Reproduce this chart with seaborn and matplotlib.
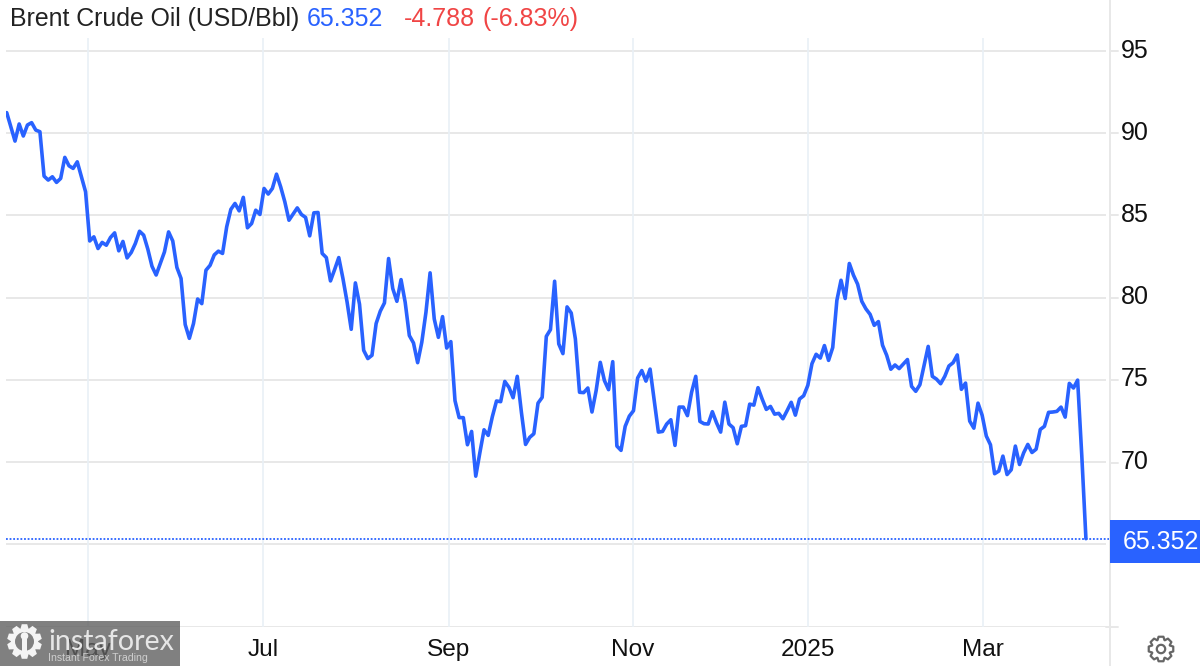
import numpy as np
import matplotlib
matplotlib.use('Agg')
import matplotlib.pyplot as plt
from matplotlib.patches import Polygon, Circle, Rectangle
import seaborn as sns

# daily closes
prices = [
    91.25, 90.39, 89.52, 90.56, 89.83, 90.50, 90.64, 90.19, 90.09, 87.39, 87.15,
    87.35, 87.01, 87.25, 88.53, 88.02, 87.86, 88.26, 87.35, 86.44, 83.45,
    83.70, 82.99, 83.36, 83.19, 83.66, 83.94, 82.85, 83.42, 82.42, 82.75,
    83.30, 84.04, 83.80, 82.95, 81.91, 81.38, 82.08, 82.78, 84.00, 83.45,
    81.84, 81.17, 78.37, 77.53, 78.43, 79.92, 79.64, 81.67, 81.97, 82.60,
    82.83, 82.69, 84.31, 85.37, 85.73, 85.28, 86.10, 84.25, 84.51, 85.32,
    85.06, 86.64, 86.30, 86.64, 87.51, 86.74, 85.83, 84.71, 85.08, 85.46,
    85.06, 84.88, 83.76, 85.16, 85.18, 82.69, 82.44, 81.02, 81.71, 82.44,
    81.17, 79.74, 78.08, 80.90, 79.60, 76.80, 76.30, 76.50, 78.43, 79.18,
    79.68, 82.38, 80.56, 79.78, 81.10, 79.72, 77.70, 77.25, 76.05, 77.29,
    79.11, 81.51, 78.71, 77.59, 78.85, 76.94, 77.33, 73.74, 72.71, 72.71,
    71.06, 71.87, 69.15, 70.59, 71.97, 71.63, 72.77, 73.72, 73.68, 74.91,
    74.55, 73.92, 75.22, 73.03, 71.08, 71.51, 71.73, 73.59, 73.94, 77.65,
    78.06, 81.00, 77.19, 76.60, 79.44, 79.07, 77.49, 74.25, 74.23, 74.51,
    73.05, 74.35, 76.07, 74.96, 74.41, 76.11, 70.98, 70.72, 72.18, 72.80,
    73.13, 75.12, 75.57, 74.93, 75.66, 73.74, 71.83, 71.87, 72.32, 72.58,
    71.02, 73.35, 73.35, 72.83, 74.25, 75.22, 72.48, 72.34, 72.32, 73.07,
    72.40, 71.83, 73.65, 72.32, 72.10, 71.12, 72.18, 72.22, 73.53, 73.47,
    74.53, 73.84, 73.21, 73.39, 72.92, 72.97, 72.64, 73.13, 73.64, 72.86,
    73.84, 74.04, 74.67, 75.99, 76.56, 76.33, 77.09, 76.19, 76.97, 79.84,
    81.06, 79.95, 82.08, 81.37, 80.82, 79.78, 79.32, 78.99, 78.32, 78.55,
    77.11, 76.50, 75.65, 75.91, 75.69, 75.97, 76.24, 74.61, 74.31, 74.71,
    75.89, 77.04, 75.22, 75.05, 74.77, 75.22, 75.85, 76.05, 76.52, 74.43,
    74.81, 72.50, 72.07, 73.59, 72.85, 71.59, 71.06, 69.30, 69.46, 70.37,
    69.25, 69.54, 70.98, 69.86, 70.57, 71.08, 70.59, 70.79, 71.99, 72.18,
    73.03, 73.05, 73.09, 73.35, 72.74, 74.79, 74.51, 74.99, 70.41, 65.352,
]
y_ticks = [60, 65, 70, 75, 80, 85, 90, 95]
y_labels = ['95', '90', '85', '80', '75', '70']
month_labels = ['May', 'Jul', 'Sep', 'Nov', '2025', 'Mar']
month_sessions = [19.6, 61.7, 106.6, 150.9, 193.0, 235.2]
last_price = 65.352

BLUE = '#2962ff'
RED = '#f04545'
GRID = '#e8e8e8'
VGRID = '#e9f0f6'
FONT = ['Liberation Sans', 'DejaVu Sans']
PX_PER_USD = 16.45

sns.set_style('white')
plt.rcParams['font.family'] = FONT

fig = plt.figure(figsize=(12, 6.66), dpi=100)
ax = fig.add_axes([6 / 1200, 39.3 / 666, 1104 / 1200, 626.7 / 666])
ax.set_xlim(-0.17, 265.8)
ax.set_ylim(60, 60 + 626.7 / PX_PER_USD)
ax.axis('off')

ax.hlines(y_ticks, -0.17, 264.8, color=GRID, lw=1.4, zorder=1)
ax.vlines(month_sessions, 60, 95.8, color=VGRID, lw=1.2, zorder=1)
ax.axhline(last_price, color=BLUE, lw=1.3, ls=(0, (1, 1)), zorder=2)

sns.lineplot(x=np.arange(len(prices)), y=prices, ax=ax, color=BLUE,
             linewidth=2.6, errorbar=None, legend=False, zorder=3)
ax.lines[-1].set_solid_joinstyle('round')

# everything around the plot is placed in pixels on a second axes
top = fig.add_axes([0, 0, 1, 1], zorder=5)
top.set_xlim(0, 1200)
top.set_ylim(666, 0)
top.axis('off')
top.patch.set_alpha(0)

top.plot([1110, 1110], [0, 666], color=GRID, lw=1.4, zorder=1)
top.plot([1106, 1118], [626.7, 626.7], color=GRID, lw=1.4, zorder=1)
for y, lab in zip([51, 133, 215, 298, 380, 462.5], y_labels):
    top.plot([1110, 1118], [y, y], color=GRID, lw=1.4, zorder=1)
    top.text(1121, y - 0.5, lab, fontsize=18, color='#111111', va='center', ha='left')

for px, lab in zip([88, 263, 449, 633, 808, 983], month_labels):
    top.text(px, 650, lab, fontsize=17.6, color='#111111', va='center', ha='center')

top.text(10, 26, 'Brent Crude Oil (USD/Bbl)', fontsize=17.9, color='#222222', va='baseline')
top.text(307, 26, '65.352', fontsize=18, color=BLUE, va='baseline')
top.text(404, 26, '-4.788', fontsize=18, color=RED, va='baseline')
top.text(483, 26, '(-6.83%)', fontsize=18, color=RED, va='baseline')

top.add_patch(Rectangle((1110, 520), 90, 43, color=BLUE, lw=0, zorder=2))
top.text(1123, 542, '65.352', fontsize=18, color='white', va='center', ha='left', zorder=3)


def gear_outline(cx, cy, r_out, r_in, teeth=8):
    pts = []
    for i in range(teeth):
        a = 2 * np.pi * i / teeth
        w = np.pi / teeth
        for da, r in [(-w * 0.95, r_in), (-w * 0.5, r_out), (w * 0.5, r_out), (w * 0.95, r_in)]:
            pts.append((cx + r * np.sin(a + da), cy - r * np.cos(a + da)))
    return pts


# settings icon
top.add_patch(Polygon(gear_outline(1161, 649, 12.5, 9.5), closed=True, fill=False,
                      ec='#666666', lw=1.6, joinstyle='round'))
top.add_patch(Circle((1161, 649), 4.2, fill=False, ec='#666666', lw=1.6))

# watermark
top.add_patch(Rectangle((0, 621), 180, 45, color='#606060', alpha=0.8, lw=0, zorder=6))
top.add_patch(Polygon(gear_outline(24.5, 641.5, 17.5, 13.5, teeth=10), closed=True, color='#f4f4f4', lw=0, zorder=7))
top.add_patch(Circle((24.5, 641.5), 9.5, color='#808080', lw=0, zorder=7))
top.add_patch(Circle((24.5, 636), 3.8, color='#f4f4f4', lw=0, zorder=7))
top.add_patch(Rectangle((22, 639), 5, 15, color='#f4f4f4', lw=0, zorder=7))
top.text(48, 650, 'instaforex', fontsize=20.6, color='#e6e6e6', va='baseline', ha='left',
         family=['Lato', 'DejaVu Sans'], zorder=8)
top.text(48, 661, 'Instant Forex Trading', fontsize=7.6, color='#cfcfcf', va='baseline', ha='left',
         family=['Liberation Sans', 'DejaVu Sans'], zorder=8)

fig.savefig('out.png', dpi=100)
